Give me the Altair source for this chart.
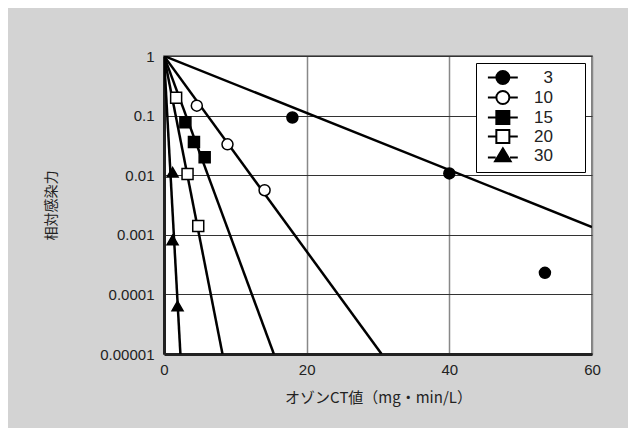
import altair as alt
import pandas as pd

# ---- data ----
series = ["3", "10", "15", "20", "30"]

pts_x = {
    "3": [18.0, 40.0, 53.4],
    "10": [4.6, 8.9, 14.1],
    "15": [3.0, 4.2, 5.7],
    "20": [1.7, 3.3, 4.8],
    "30": [1.2, 1.2, 1.9],
}
pts_y = {
    "3": [0.093, 0.0107, 0.00023],
    "10": [0.147, 0.033, 0.0056],
    "15": [0.077, 0.036, 0.020],
    "20": [0.20, 0.0105, 0.0014],
    "30": [0.0112, 0.00082, 0.000064],
}
# fitted lines: start and end points
line_x = {"3": [0, 60], "10": [0, 30.5], "15": [0, 15.4], "20": [0, 8.2], "30": [0, 2.3]}
line_y = {"3": [1, 0.00135], "10": [1, 1e-5], "15": [1, 1e-5], "20": [1, 1e-5], "30": [1, 1e-5]}

y_ticks = [1e-5, 1e-4, 1e-3, 1e-2, 1e-1, 1]
x_ticks = [0, 20, 40, 60]

pts = pd.DataFrame(
    [{"x": x, "y": y, "series": s} for s in series for x, y in zip(pts_x[s], pts_y[s])]
)
lines = pd.DataFrame(
    [{"x": x, "y": y, "series": s} for s in series for x, y in zip(line_x[s], line_y[s])]
)

shapes = ["circle", "circle", "square", "square", "triangle-up"]
fills = ["black", "white", "black", "white", "black"]

# legend glyphs: short line with marker (trailing move widens the legend box)
CIRC = "M-0.4,0H0.9M2.9,0H4.2M0.9,0A1,1,0,1,1,2.9,0A1,1,0,1,1,0.9,0ZM13.0,0"
SQR = "M-0.4,0H0.9M2.9,0H4.2M0.9,-1H2.9V1H0.9ZM13.0,0"
TRI = "M-0.4,0.3H0.8M3.0,0.3H4.2M1.9,-1.1L3.1,0.9H0.7ZM13.0,0"
leg_paths = [CIRC, CIRC, SQR, SQR, TRI]

FONT = "Liberation Sans"
JP = "Noto Sans CJK JP"

xscale = alt.Scale(domain=[0, 60], nice=False)
yscale = alt.Scale(type="log", domain=[1e-5, 1], nice=False)

x_enc = alt.X(
    "x:Q",
    scale=xscale,
    axis=alt.Axis(
        values=x_ticks,
        title="オゾンCT値（mg・min/L）",
        titleFont=JP,
        titleFontSize=15,
        titleFontWeight="normal",
        titleColor="#222",
        titlePadding=13,
        labelFont=FONT,
        labelFontSize=15,
        labelColor="#222",
        labelPadding=8,
        ticks=False,
        grid=True,
        gridColor="#888",
        gridWidth=1.5,
        domainColor="#222",
        domainWidth=3,
        labelFlush=False,
    ),
)
y_enc = alt.Y(
    "y:Q",
    scale=yscale,
    axis=alt.Axis(
        values=y_ticks,
        format=".5~f",
        title="相対感染力",
        titleFont=JP,
        titleFontSize=14,
        titleFontWeight="normal",
        titleColor="#222",
        titlePadding=41,
        labelFont=FONT,
        labelFontSize=15,
        labelColor="#222",
        labelPadding=10,
        ticks=False,
        grid=True,
        gridColor="#333",
        gridWidth=1,
        domainColor="#222",
        domainWidth=3,
        labelFlush=False,
    ),
)

line_layer = alt.Chart(lines).mark_line(color="black", strokeWidth=2.5, clip=True).encode(
    x=x_enc, y=y_enc, detail="series:N"
)

point_layer = alt.Chart(pts).mark_point(
    size=121, stroke="black", strokeWidth=1.5, opacity=1, filled=False
).encode(
    x="x:Q",
    y="y:Q",
    shape=alt.Shape("series:N", scale=alt.Scale(domain=series, range=shapes), legend=None),
    fill=alt.Fill("series:N", scale=alt.Scale(domain=series, range=fills), legend=None),
)

legend_common = dict(
    title=None,
    orient="none",
    legendX=312,
    legendY=7,
    strokeColor="black",
    fillColor="white",
    padding=6,
    labelFont=FONT,
    labelFontSize=17,
    labelColor="#222",
    labelOffset=54,
    labelAlign="right",
    symbolSize=169,
    symbolStrokeWidth=2,
    symbolStrokeColor="black",
    rowPadding=-3,
)

legend_layer = alt.Chart(pts).transform_filter("datum.x < -100").mark_point(
    size=169, strokeWidth=2, opacity=1, filled=False
).encode(
    x="x:Q",
    y="y:Q",
    shape=alt.Shape("series:N", scale=alt.Scale(domain=series, range=leg_paths),
                    legend=alt.Legend(**legend_common)),
    fill=alt.Fill("series:N", scale=alt.Scale(domain=series, range=fills),
                  legend=alt.Legend(**legend_common)),
    stroke=alt.Stroke("series:N", scale=alt.Scale(domain=series, range=["black"] * 5),
                      legend=alt.Legend(**legend_common)),
)

chart = (
    alt.layer(line_layer, point_layer, legend_layer)
    .resolve_scale(shape="independent", fill="independent", stroke="independent")
    .properties(
        width=428,
        height=298,
        background="#d3d3d3",
        padding={"left": 156, "top": 48, "right": 36, "bottom": 74},
        autosize=alt.AutoSizeParams(type="none"),
    )
    .configure_view(stroke="#555", strokeWidth=1.5, fill="white")
)

chart.save("out.html", embed_options={"renderer": "svg", "actions": False})
